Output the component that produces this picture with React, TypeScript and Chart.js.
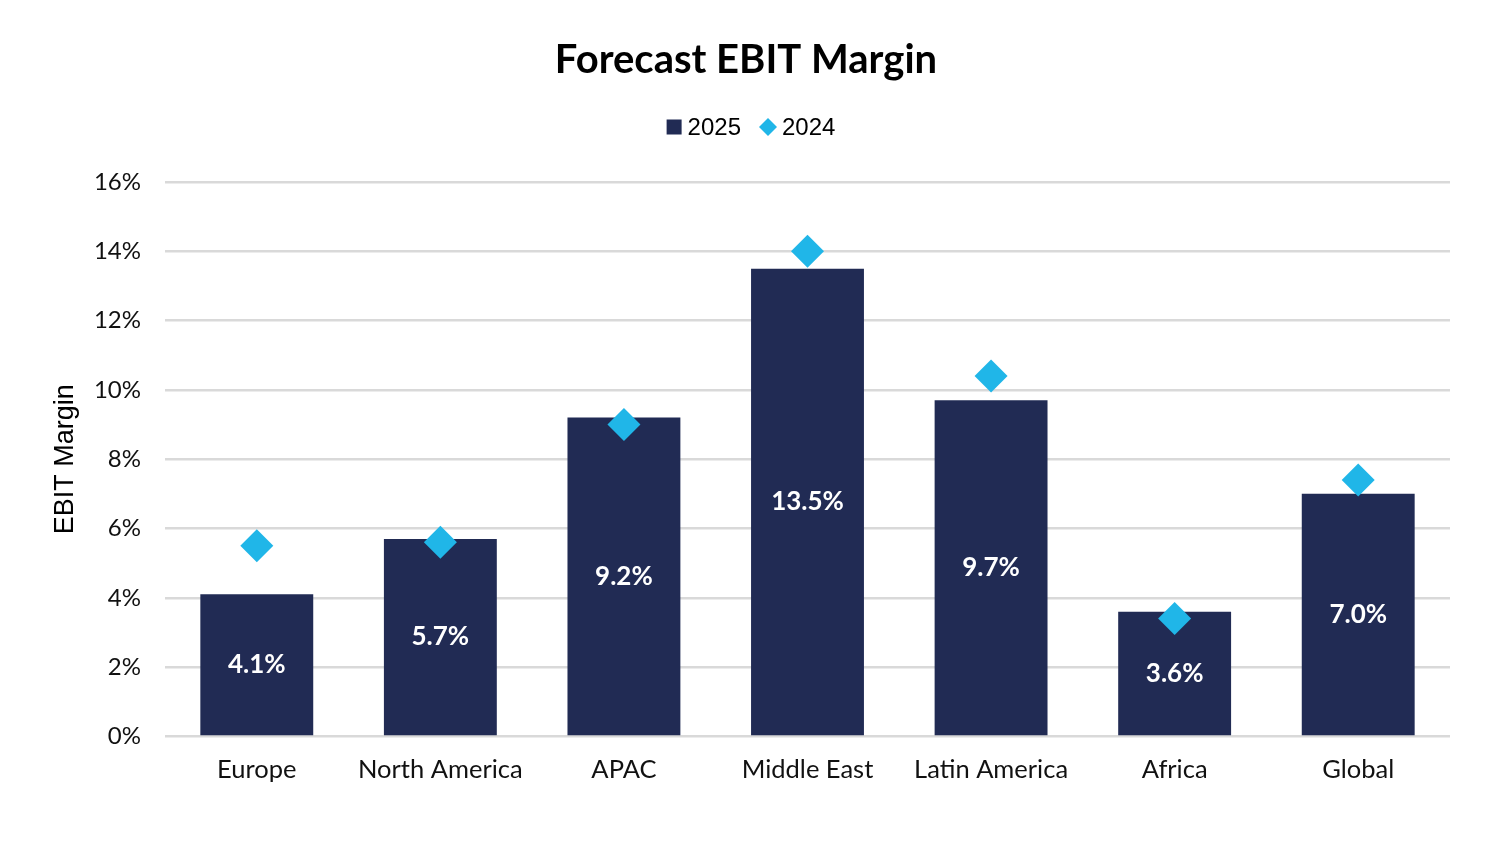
import React, { useEffect, useRef } from 'react';
import { Chart, registerables } from 'chart.js';

Chart.register(...registerables);

const categories = ['Europe', 'North America', 'APAC', 'Middle East', 'Latin America', 'Africa', 'Global'];
const values2025 = [4.1, 5.7, 9.2, 13.5, 9.7, 3.6, 7.0];
const values2024 = [5.5, 5.6, 9.0, 14.0, 10.4, 3.4, 7.4];
const seriesLabels = ['2025', '2024'];
const yMin = 0;
const yMax = 16;
const yStep = 2;

const NAVY = '#212B54';
const CYAN = '#20B6E8';

const barLabelPlugin = {
  id: 'barLabels',
  afterDatasetDraw(chart: any, args: any) {
    const meta = args.meta;
    if (meta.type !== 'bar') return;
    const ctx = chart.ctx;
    ctx.save();
    ctx.fillStyle = '#ffffff';
    ctx.font = 'bold 26px Lato';
    ctx.textAlign = 'center';
    ctx.textBaseline = 'middle';
    meta.data.forEach((el: any, i: number) => {
      const v = chart.data.datasets[args.index].data[i];
      const cy = (el.y + el.base) / 2;
      ctx.fillText(v.toFixed(1) + '%', el.x, cy);
    });
    ctx.restore();
  },
};

const customLegendPlugin = {
  id: 'customLegend',
  afterDraw(chart: any) {
    const ctx = chart.ctx;
    const ds = chart.data.datasets;
    ctx.save();
    ctx.font = '24px "Liberation Sans"';
    ctx.textBaseline = 'middle';
    ctx.textAlign = 'left';
    const w0 = ctx.measureText(ds[0].label).width;
    const w1 = ctx.measureText(ds[1].label).width;
    const box = 15;
    const dHalf = 9;
    const total = box + 6 + w0 + 18 + dHalf * 2 + 5 + w1;
    const cx = chart.width / 2 + 5;
    const cy = 127;
    let x = cx - total / 2;
    ctx.fillStyle = ds[0].backgroundColor;
    ctx.fillRect(x, cy - box / 2, box, box);
    x += box + 6;
    ctx.fillStyle = '#000000';
    ctx.fillText(ds[0].label, x, cy + 1);
    x += w0 + 18;
    ctx.fillStyle = ds[1].backgroundColor;
    ctx.beginPath();
    ctx.moveTo(x, cy);
    ctx.lineTo(x + dHalf, cy - dHalf);
    ctx.lineTo(x + dHalf * 2, cy);
    ctx.lineTo(x + dHalf, cy + dHalf);
    ctx.closePath();
    ctx.fill();
    x += dHalf * 2 + 5;
    ctx.fillStyle = '#000000';
    ctx.fillText(ds[1].label, x, cy + 1);
    ctx.restore();
  },
};

export default function App() {
  const canvasRef = useRef<HTMLCanvasElement | null>(null);

  useEffect(() => {
    document.body.style.margin = '0';
    const canvas = canvasRef.current;
    if (!canvas) return;
    const chart = new Chart(canvas, {
      type: 'bar',
      data: {
        labels: categories,
        datasets: [
          {
            type: 'bar',
            label: seriesLabels[0],
            data: values2025,
            backgroundColor: NAVY,
            borderWidth: 0,
            categoryPercentage: 1,
            barPercentage: 0.615,
            order: 1,
          } as any,
          {
            type: 'line',
            label: seriesLabels[1],
            data: values2024,
            showLine: false,
            pointStyle: 'rectRot',
            pointRadius: 16.5,
            pointHoverRadius: 16.5,
            pointBackgroundColor: CYAN,
            pointBorderWidth: 0,
            backgroundColor: CYAN,
            borderColor: CYAN,
            borderWidth: 0,
            order: 0,
          } as any,
        ],
      },
      options: {
        animation: false,
        responsive: true,
        maintainAspectRatio: false,
        layout: { padding: { left: 42, right: 42, top: 0, bottom: 42 } },
        plugins: {
          title: {
            display: true,
            text: 'Forecast EBIT Margin',
            color: '#000000',
            font: { family: 'Lato', size: 40, weight: 'bold' },
            padding: { top: 36, bottom: 98 },
          },
          legend: { display: false },
          tooltip: { enabled: false },
        },
        scales: {
          x: {
            grid: { display: false, drawTicks: false },
            border: { display: false },
            ticks: {
              color: '#111111',
              font: { family: 'Lato', size: 25.5 },
              padding: 18,
              maxRotation: 0,
            },
          },
          y: {
            min: yMin,
            max: yMax,
            afterFit: (scale: any) => {
              scale.width = 123;
            },
            grid: { color: '#d9d9d9', lineWidth: 2.5, drawTicks: false },
            border: { display: false },
            ticks: {
              stepSize: yStep,
              color: '#111111',
              font: { family: 'Lato', size: 24 },
              padding: 24,
              callback: (v: any) => v + '%',
            },
            title: {
              display: true,
              text: 'EBIT Margin',
              color: '#000000',
              font: { family: 'Liberation Sans', size: 27 },
              padding: { top: 7, bottom: 0 },
            },
          },
        },
      },
      plugins: [barLabelPlugin, customLegendPlugin],
    } as any);
    return () => chart.destroy();
  }, []);

  return (
    <div style={{ position: 'fixed', left: 0, top: 0, width: '100vw', height: '100vh', background: '#ffffff' }}>
      <canvas ref={canvasRef} />
    </div>
  );
}
